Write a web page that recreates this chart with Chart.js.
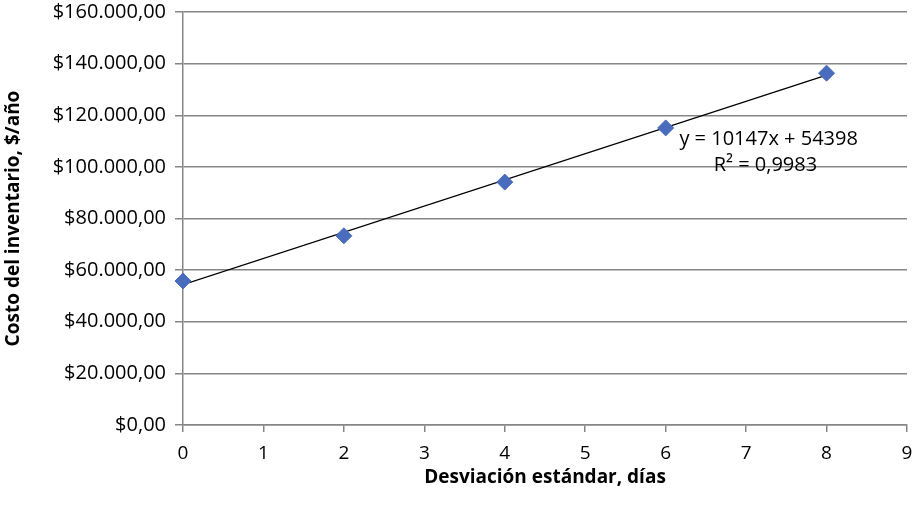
<!DOCTYPE html>
<html>
<head>
<meta charset="utf-8">
<script src="https://cdn.jsdelivr.net/npm/chart.js@4/dist/chart.umd.min.js"></script>
<style>
  html, body { margin: 0; padding: 0; background: #fff; }
  canvas { display: block; }
</style>
</head>
<body>
<canvas id="chart" width="916" height="515"></canvas>
<script>
// datos
const desviacionDias = [0, 2, 4, 6, 8];
const costoInventario = [55800, 73300, 94100, 115100, 136300];
// línea de tendencia (según la ecuación mostrada)
const tendenciaPendiente = 10147;
const tendenciaIntercepto = 54398;
const tendenciaX = [0, 8];
const ecuacionTexto = 'y = 10147x + 54398';
const r2Texto = 'R² = 0,9983';

const FONT = '"Open Sans", "Liberation Sans", sans-serif';
const GRIS = '#868686';

const puntos = desviacionDias.map((x, i) => ({ x: x, y: costoInventario[i] }));
const tendencia = tendenciaX.map(x => ({ x: x, y: tendenciaPendiente * x + tendenciaIntercepto }));

// etiqueta de la ecuación
const ecuacionPlugin = {
    id: 'ecuacion',
    afterDatasetsDraw(chart) {
        const ctx = chart.ctx;
        const xs = chart.scales.x, ys = chart.scales.y;
        ctx.save();
        ctx.fillStyle = '#000';
        ctx.font = '20px ' + FONT;
        ctx.textAlign = 'center';
        ctx.textBaseline = 'middle';
        ctx.fillText(ecuacionTexto, xs.getPixelForValue(7.28), ys.getPixelForValue(110600));
        ctx.fillText(r2Texto, xs.getPixelForValue(7.24), ys.getPixelForValue(100500));
        ctx.restore();
    }
};

new Chart(document.getElementById('chart'), {
    type: 'scatter',
    data: {
        datasets: [
            {
                label: 'Tendencia',
                type: 'line',
                data: tendencia,
                borderColor: '#000',
                borderWidth: 1.3,
                pointRadius: 0,
                fill: false,
                order: 2
            },
            {
                label: 'Costo',
                data: puntos,
                pointStyle: 'rectRot',
                pointRadius: 8,
                pointHoverRadius: 8,
                backgroundColor: '#4a6cbc',
                borderColor: '#4a6cbc',
                borderWidth: 1,
                clip: false,
                order: 1
            }
        ]
    },
    options: {
        responsive: false,
        animation: false,
        devicePixelRatio: 1,
        layout: { padding: { top: 12, right: 5, left: 0, bottom: 0 } },
        plugins: {
            legend: { display: false },
            tooltip: { enabled: false }
        },
        scales: {
            x: {
                type: 'linear',
                min: 0,
                max: 9,
                ticks: {
                    stepSize: 1,
                    color: '#000',
                    font: { family: FONT, size: 19 },
                    padding: 10
                },
                grid: {
                    display: true,
                    drawOnChartArea: false,
                    drawTicks: true,
                    tickLength: 7,
                    color: GRIS,
                    lineWidth: 1.5
                },
                border: { color: GRIS, width: 1.5 },
                title: {
                    display: true,
                    text: 'Desviación estándar, días',
                    color: '#000',
                    font: { family: FONT, size: 19, weight: 'bold' },
                    padding: { top: 0, bottom: 26 }
                },
                afterFit(scale) {
                    scale.height = 90;
                    scale.paddingLeft = 0;
                    scale.paddingRight = 0;
                }
            },
            y: {
                min: 0,
                max: 160000,
                ticks: {
                    stepSize: 20000,
                    color: '#000',
                    font: { family: FONT, size: 20 },
                    padding: 9,
                    callback: v => '$' + v.toLocaleString('de-DE', { minimumFractionDigits: 2, maximumFractionDigits: 2 })
                },
                grid: {
                    color: GRIS,
                    lineWidth: 1.5,
                    tickLength: 8
                },
                border: { color: GRIS, width: 1.5 },
                title: {
                    display: true,
                    text: 'Costo del inventario, $/año',
                    color: '#000',
                    font: { family: FONT, size: 19, weight: 'bold' },
                    padding: { top: 2, bottom: 0 }
                },
                afterFit(scale) {
                    scale.width = 183;
                    scale.paddingTop = 0;
                    scale.paddingBottom = 0;
                }
            }
        }
    },
    plugins: [ecuacionPlugin]
});
</script>
</body>
</html>
